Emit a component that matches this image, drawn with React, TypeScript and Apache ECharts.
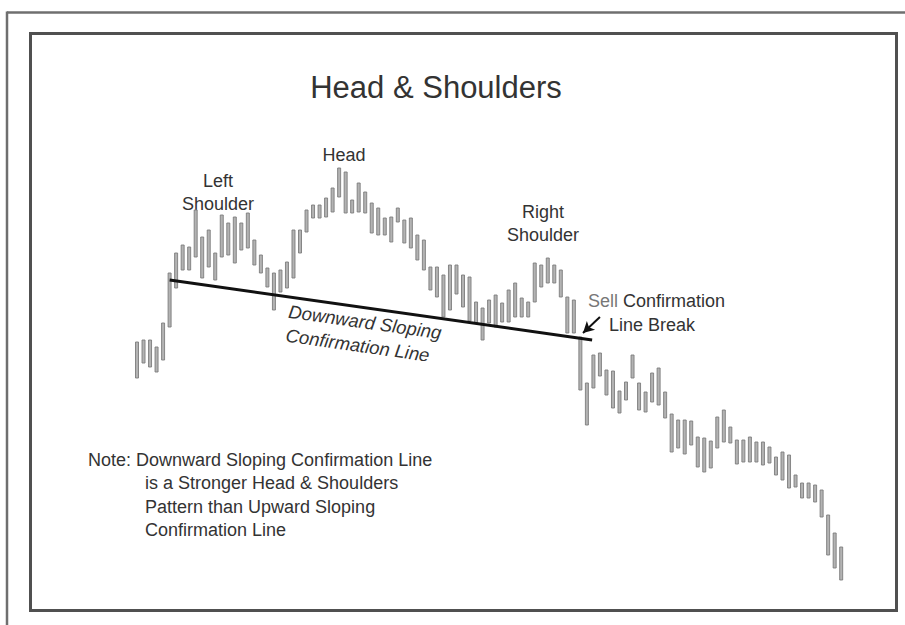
import React, { useEffect, useRef } from "react";
import * as echarts from "echarts";

// Price values (arbitrary price units)
const highs = [
  258, 260, 260, 253, 277, 327, 347, 355, 353, 390, 363, 370, 347, 385, 377, 383, 377, 387, 360, 345,
  332, 327, 330, 338, 370, 370, 390, 395, 395, 402, 412, 432, 428, 400, 417, 408, 397, 392, 382, 383,
  392, 380, 382, 365, 360, 333, 333, 325, 335, 335, 325, 323, 298, 292, 300, 305, 297, 310, 317, 302,
  298, 337, 335, 342, 335, 330, 303, 300, 263, 217, 245, 247, 230, 229, 209, 218, 245, 217, 208, 227,
  232, 208, 186, 180, 180, 179, 163, 162, 159, 183, 190, 173, 160, 160, 163, 158, 158, 153, 143, 148,
  145, 125, 117, 117, 115, 110, 85, 67, 53,
];
const lows = [
  222, 237, 233, 228, 240, 273, 312, 330, 330, 343, 322, 333, 320, 343, 345, 337, 350, 352, 335, 327,
  313, 290, 308, 312, 322, 347, 368, 382, 382, 383, 388, 403, 387, 387, 388, 387, 367, 365, 365, 358,
  378, 357, 352, 340, 330, 310, 303, 283, 290, 306, 293, 279, 277, 260, 277, 273, 278, 278, 283, 283,
  283, 298, 313, 317, 317, 303, 267, 267, 210, 175, 212, 224, 205, 192, 187, 200, 222, 190, 188, 198,
  195, 182, 148, 152, 146, 155, 133, 128, 132, 152, 158, 157, 136, 138, 138, 138, 135, 137, 125, 120,
  112, 113, 102, 102, 98, 83, 45, 32, 20,
];
// Confirmation (neckline) endpoints: [bar index, price]
const necklineStart = [5, 320];
const necklineEnd = [69.8, 260];
// Arrow for the sell signal: [bar index, price]
const arrowFrom = [71, 283];
const arrowTo = [68.4, 267];

const titleText = "Head & Shoulders";
const noteLines = [
  "Note: Downward Sloping Confirmation Line",
  "is a Stronger Head & Shoulders",
  "Pattern than Upward Sloping",
  "Confirmation Line",
];

const FONT = "'Liberation Sans', Arial, Helvetica, sans-serif";
const TXT = "#333";

export default function App() {
  const ref = useRef<HTMLDivElement>(null);
  useEffect(() => {
    if (!ref.current) return;
    const chart = echarts.init(ref.current, undefined, { renderer: "svg" });
    const barData = highs.map((h, i) => [i, h, lows[i]]);
    const label = (text: string, x: number, y: number, align = "center", extra: any = {}) => ({
      type: "text",
      x,
      y,
      silent: true,
      style: {
        text,
        x: 0,
        y: 0,
        fill: TXT,
        font: `18px ${FONT}`,
        align,
        verticalAlign: "middle",
        ...extra,
      },
    });
    const option: any = {
      animation: false,
      backgroundColor: "#fff",
      grid: { left: 133.74, right: 60.56, top: 150, bottom: 25 },
      xAxis: {
        type: "value",
        min: -0.5,
        max: 108.5,
        show: false,
      },
      yAxis: {
        type: "value",
        min: 0,
        max: 450,
        show: false,
      },
      series: [
        {
          type: "custom",
          clip: false,
          encode: { x: 0, y: [1, 2] },
          data: barData,
          renderItem: (params: any, api: any) => {
            const x = api.value(0);
            const top = api.coord([x, api.value(1)]);
            const bot = api.coord([x, api.value(2)]);
            return {
              type: "rect",
              shape: { x: top[0] - 1.5, y: top[1], width: 3, height: bot[1] - top[1] },
              style: { fill: "#b3b3b3", stroke: "#7d7d7d", lineWidth: 0.9 },
            };
          },
          z: 2,
        },
        {
          type: "line",
          data: [necklineStart, necklineEnd],
          symbol: "none",
          lineStyle: { color: "#111", width: 3 },
          z: 3,
          markLine: {
            silent: true,
            symbol: ["none", "arrow"],
            symbolSize: [9, 11],
            label: { show: false },
            lineStyle: { color: "#111", width: 2, type: "solid" },
            data: [[{ coord: arrowFrom }, { coord: arrowTo }]],
          },
        },
      ],
      graphic: [
        {
          type: "line",
          silent: true,
          shape: { x1: 7, y1: 12.5, x2: 905, y2: 12.5 },
          style: { stroke: "#6f6f6f", lineWidth: 2.5 },
        },
        {
          type: "line",
          silent: true,
          shape: { x1: 7, y1: 11.5, x2: 7, y2: 625 },
          style: { stroke: "#6f6f6f", lineWidth: 2.5 },
        },
        {
          type: "rect",
          silent: true,
          shape: { x: 30.5, y: 33.5, width: 866, height: 577 },
          style: { fill: "none", stroke: "#505050", lineWidth: 3 },
        },
        label(titleText, 436, 87, "center", { font: `31px ${FONT}` }),
        label("Head", 344, 155),
        label("Left", 218, 181),
        label("Shoulder", 218, 204),
        label("Right", 543, 212),
        label("Shoulder", 543, 235),
        {
          type: "text",
          x: 588,
          y: 301,
          silent: true,
          style: {
            text: "{a|Sell} Confirmation",
            fill: TXT,
            font: `18px ${FONT}`,
            align: "left",
            verticalAlign: "middle",
            rich: { a: { fill: "#777", font: `18px ${FONT}` } },
          },
        },
        label("Line Break", 609, 325, "left"),
        {
          type: "group",
          x: 365,
          y: 322,
          rotation: -0.14,
          silent: true,
          children: [
            {
              type: "text",
              style: {
                text: "Downward Sloping",
                x: 0,
                y: 0,
                fill: TXT,
                font: `italic 18.5px ${FONT}`,
                align: "center",
                verticalAlign: "middle",
              },
            },
            {
              type: "text",
              style: {
                text: "Confirmation Line",
                x: -4,
                y: 24,
                fill: TXT,
                font: `italic 18.5px ${FONT}`,
                align: "center",
                verticalAlign: "middle",
              },
            },
          ],
        },
        ...noteLines.map((t, i) => label(t, i === 0 ? 88 : 145, 460 + i * 23.4, "left")),
      ],
    };
    chart.setOption(option);
    return () => chart.dispose();
  }, []);
  return (
    <div
      ref={ref}
      style={{ position: "absolute", left: 0, top: 0, width: 905, height: 625, background: "#fff" }}
    />
  );
}
